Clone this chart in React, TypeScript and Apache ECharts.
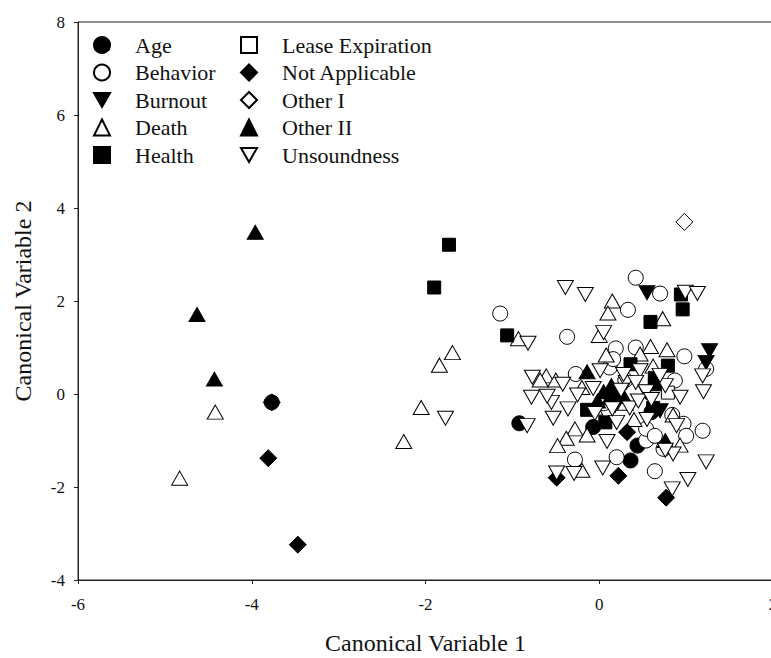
import React, { useEffect, useRef } from "react";
import * as echarts from "echarts";

// Canonical discriminant scores, one list of [CV1, CV2] pairs per removal reason
const categories = [
  "Age",
  "Behavior",
  "Burnout",
  "Death",
  "Health",
  "Lease Expiration",
  "Not Applicable",
  "Other I",
  "Other II",
  "Unsoundness",
];

const age = [
  [-3.77, -0.18], [-0.92, -0.63], [-0.07, -0.71], [0.36, -1.43], [0.44, -1.11],
  [0.6, -0.39], [0.16, -0.02],
];

const behavior = [
  [-1.14, 1.73], [-0.37, 1.23], [0.42, 2.5], [0.7, 2.16], [0.33, 1.81], [0.19, 0.98],
  [0.42, 1.0], [0.98, 0.81], [1.23, 0.54], [-0.27, 0.43], [0.12, 0.57], [0.87, 0.29],
  [-0.28, -1.41], [0.2, -1.36], [0.54, -1.0], [0.64, -1.66], [1.19, -0.79], [0.74, -1.18],
  [0.97, -0.64], [0.54, -0.75], [0.64, -0.9], [1.0, -0.9], [0.3, 0.3], [0.05, -0.2],
  [0.84, -0.45], [0.16, 0.75],
];

const burnout = [
  [0.55, 2.18], [1.27, 0.93], [1.23, 0.68], [0.7, -0.36], [0.54, 0.04], [0.18, -0.25],
];

const death = [
  [-4.42, -0.39], [-4.83, -1.81], [-1.69, 0.89], [-1.84, 0.62], [-2.05, -0.29],
  [-2.25, -1.02], [0.15, 2.0], [0.1, 1.74], [0.73, 1.62], [-0.93, 1.19], [0.0, 1.26],
  [0.59, 1.02], [0.78, 0.95], [0.08, 0.84], [0.47, 0.86], [-0.61, 0.39], [-0.5, 0.3],
  [-0.2, 0.14], [-0.28, -0.75], [-0.38, -0.95], [-0.48, -1.11], [-0.2, -1.64],
  [-0.14, -0.88], [0.3, -0.2], [-0.05, -0.3], [0.4, -0.55], [0.85, -0.45], [0.93, -1.1],
  [0.62, 0.6], [-0.68, 0.3],
];

const health = [
  [-1.73, 3.21], [-1.9, 2.29], [-1.06, 1.26], [0.94, 2.14], [0.96, 1.82], [0.59, 1.55],
  [0.79, 0.61], [0.36, 0.64], [0.64, 0.34], [0.64, 0.21], [-0.14, -0.34], [0.07, -0.61],
  [0.62, -0.3],
];

const leaseExpiration = [[0.79, 0.03]];

const notApplicable = [
  [-3.77, -0.18], [-3.81, -1.38], [-3.47, -3.24], [0.22, -1.76], [0.77, -2.23],
  [0.32, -0.82], [-0.49, -1.8],
];

const otherI = [[0.98, 3.7]];

const otherII = [
  [-3.96, 3.48], [-4.63, 1.71], [-4.43, 0.32], [-0.14, 0.48], [0.14, 0.18], [0.05, 0.05],
  [0.12, -0.08], [0.28, -0.05], [0.76, -1.0], [-0.02, -0.15],
];

const unsoundness = [
  [-1.77, -0.52], [-0.39, 2.29], [-0.16, 2.14], [0.99, 2.19], [1.13, 2.16], [-0.82, 1.09],
  [0.05, 1.32], [1.19, 0.39], [1.2, 0.05], [0.47, 0.5], [0.01, 0.5], [-0.77, 0.36],
  [-0.42, 0.21], [-0.07, 0.12], [0.31, 0.25], [0.42, 0.25], [0.54, 0.05], [0.76, 0.18],
  [-0.78, -0.07], [-0.55, -0.18], [-0.36, -0.32], [0.93, -0.07], [-0.83, -0.68],
  [-0.53, -0.52], [-0.49, -1.7], [-0.29, -1.71], [0.04, -1.59], [1.02, -1.84],
  [0.84, -2.04], [1.23, -1.46], [0.09, -1.02], [0.2, -0.61], [0.89, -0.68], [0.85, -1.29],
  [0.76, -1.21], [0.25, 0.08], [0.35, -0.3], [0.45, -0.15], [-0.05, -0.42], [0.15, -0.32],
  [0.6, -0.12], [-0.25, -0.02], [0.55, -0.55], [-0.6, -0.05], [0.28, 0.42], [0.7, 0.4],
];

const seriesData = [
  age, behavior, burnout, death, health,
  leaseExpiration, notApplicable, otherI, otherII, unsoundness,
];

const xTicks = { min: -6, max: 2, interval: 2 };
const yTicks = { min: -4, max: 8, interval: 2 };

const DOWN_TRIANGLE = "path://M0,0L16,0L8,14Z";
const INK = "#111";
const FONT = "Liberation Serif";

// marker shape, size and fill for each reason, in legend order
const markers = [
  { symbol: "circle", size: 15, filled: true },
  { symbol: "circle", size: 15, filled: false },
  { symbol: DOWN_TRIANGLE, size: [16, 14], filled: true },
  { symbol: "triangle", size: [16, 14], filled: false },
  { symbol: "rect", size: 13, filled: true },
  { symbol: "rect", size: 13, filled: false },
  { symbol: "diamond", size: 17, filled: true },
  { symbol: "diamond", size: 17, filled: false },
  { symbol: "triangle", size: [16, 14], filled: true },
  { symbol: DOWN_TRIANGLE, size: [16, 14], filled: false },
];

const legendBase = {
  orient: "vertical",
  top: 34,
  padding: 0,
  itemWidth: 16,
  itemHeight: 16,
  itemGap: 5.5,
  selectedMode: false,
  textStyle: {
    fontFamily: FONT,
    fontSize: 22,
    lineHeight: 22,
    color: INK,
    padding: [0, 0, 0, 20],
  },
};

export default function App() {
  const ref = useRef<HTMLDivElement>(null);

  useEffect(() => {
    if (!ref.current) return;
    const chart = echarts.init(ref.current, null, { renderer: "svg" });

    const axisCommon = {
      type: "value",
      nameLocation: "middle",
      nameTextStyle: { fontFamily: FONT, fontSize: 24, color: INK },
      axisLine: { show: true, onZero: false, lineStyle: { color: "#222", width: 1 } },
      axisTick: { show: true, inside: false, length: 4, lineStyle: { color: "#222" } },
      splitLine: { show: false },
      axisLabel: { fontFamily: FONT, fontSize: 17, color: INK },
    };

    chart.setOption({
      animation: false,
      backgroundColor: "#fff",
      grid: {
        left: 78,
        top: 22,
        right: -2,
        bottom: 78,
        outerBoundsMode: "none",
        containLabel: false,
        show: true,
        borderColor: "#222",
        borderWidth: 1,
      },
      legend: [
        { ...legendBase, left: 93, data: categories.slice(0, 5) },
        { ...legendBase, left: 240, data: categories.slice(5) },
      ],
      xAxis: {
        ...axisCommon,
        ...xTicks,
        name: "Canonical Variable 1",
        nameGap: 51,
        axisLabel: { ...axisCommon.axisLabel, margin: 16 },
      },
      yAxis: {
        ...axisCommon,
        ...yTicks,
        name: "Canonical Variable 2",
        nameGap: 43,
        axisLabel: { ...axisCommon.axisLabel, margin: 13 },
      },
      series: categories.map((name, i) => ({
        name,
        type: "scatter",
        data: seriesData[i],
        symbol: markers[i].symbol,
        symbolSize: markers[i].size,
        itemStyle: {
          color: markers[i].filled ? "#000" : "#fff",
          borderColor: "#000",
          borderWidth: 1,
          opacity: 1,
        },
        emphasis: { disabled: true },
      })),
    });

    return () => chart.dispose();
  }, []);

  return (
    <div
      ref={ref}
      style={{ position: "absolute", left: 0, top: 0, width: 771, height: 658 }}
    />
  );
}
